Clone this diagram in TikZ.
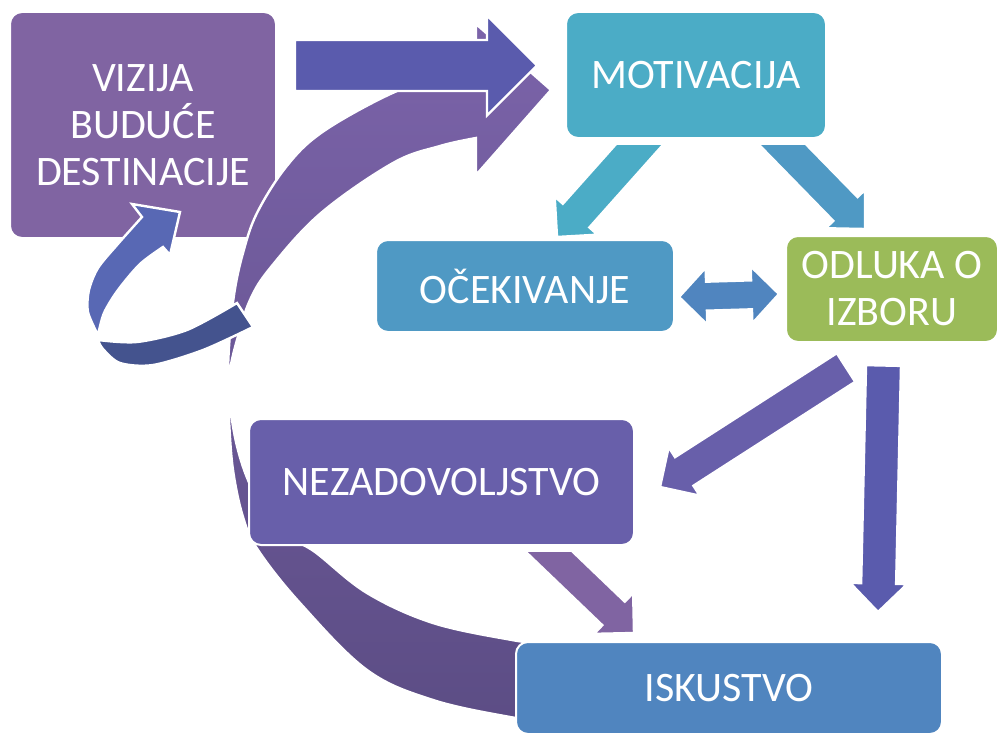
\documentclass[tikz,border=0pt]{standalone}
\usepackage{fontspec}
\setmainfont{Carlito}
\usetikzlibrary{calc}

\definecolor{vizcol}{HTML}{8064A2}
\definecolor{motcol}{HTML}{4BACC6}
\definecolor{ocecol}{HTML}{4F99C4}
\definecolor{odlcol}{HTML}{9BBB59}
\definecolor{nezcol}{HTML}{685FAA}
\definecolor{iskcol}{HTML}{5085BF}
\definecolor{arrcol}{HTML}{5A5BAD}
\definecolor{loopcol}{HTML}{5868B4}
\definecolor{loopback}{HTML}{44538E}
\definecolor{bandtop}{HTML}{7B63A9}
\definecolor{bandbot}{HTML}{5C4D85}

\newcommand{\pxu}{0.5pt}
% colour, tail, tip, half shaft, half head, head length
\newcommand{\blockarrow}[6]{%
  \coordinate (ba-t) at (#2);
  \coordinate (ba-p) at (#3);
  \coordinate (ba-b) at ($(ba-p)!{#6*\pxu}!(ba-t)$);
  \fill[#1, draw=white, line width=1.2pt]
    ($(ba-t)!{#4*\pxu}!90:(ba-p)$) -- ($(ba-b)!{#4*\pxu}!90:(ba-p)$) -- ($(ba-b)!{#5*\pxu}!90:(ba-p)$) -- (ba-p)
    -- ($(ba-b)!{#5*\pxu}!-90:(ba-p)$) -- ($(ba-b)!{#4*\pxu}!-90:(ba-p)$) -- ($(ba-t)!{#4*\pxu}!-90:(ba-p)$) -- cycle;
}
% colour, left tip, right tip, half shaft, half head, head length
\newcommand{\dblarrow}[6]{%
  \coordinate (da-a) at (#2);
  \coordinate (da-b) at (#3);
  \coordinate (da-ah) at ($(da-a)!{#6*\pxu}!(da-b)$);
  \coordinate (da-bh) at ($(da-b)!{#6*\pxu}!(da-a)$);
  \fill[#1, draw=white, line width=1.2pt]
    (da-a) -- ($(da-ah)!{#5*\pxu}!90:(da-b)$) -- ($(da-ah)!{#4*\pxu}!90:(da-b)$)
    -- ($(da-bh)!{#4*\pxu}!-90:(da-a)$) -- ($(da-bh)!{#5*\pxu}!-90:(da-a)$) -- (da-b)
    -- ($(da-bh)!{#5*\pxu}!90:(da-a)$) -- ($(da-bh)!{#4*\pxu}!90:(da-a)$)
    -- ($(da-ah)!{#4*\pxu}!-90:(da-b)$) -- ($(da-ah)!{#5*\pxu}!-90:(da-b)$) -- cycle;
}

\tikzset{
  box/.style={rectangle, rounded corners=6pt, draw=white, line width=1pt, text=white,
    align=center, inner sep=0pt, font=\fontsize{21}{23.5}\selectfont},
}

\begin{document}
\begin{tikzpicture}[x=0.5pt, y=-0.5pt]
  \useasboundingbox (0,0) rectangle (1000,733);
  \clip (0,0) rectangle (1000,733);

  \node[box, fill=vizcol, minimum width=266*\pxu, minimum height=226*\pxu] (viz) at (143,125) {VIZIJA\\BUDUĆE\\DESTINACIJE};

  % big loop back to motivation
  \shadedraw[top color=bandtop, bottom color=bandbot, draw=white, line width=1.2pt]
    plot[smooth, tension=0.6] coordinates {(540,720) (510,717) (433,700) (367,670) (300,603) (258,550) (243,517)
      (233,470) (229,420) (228,385) (229,347) (234,295) (243,253) (257,213) (286,167) (321,133) (384,97) (430,80) (476,75)}
    -- (476,24) -- (551,90) -- (476,175)
    -- plot[smooth, tension=0.6] coordinates {(476,138) (440,146) (393,163) (321,213) (271,267) (250,300) (237,340)
      (230,370) (229,390) (232,420) (238,450) (248,480) (265,515) (290,538) (315,552) (367,593) (433,623) (512,640) (540,643)}
    -- cycle;

  % small loop into the vision
  \filldraw[fill=loopback, draw=white, line width=1.2pt]
    plot[smooth] coordinates {(98,340) (137,342) (187,330) (237,303)}
    -- plot[smooth] coordinates {(253,327) (203,350) (153,365) (120,363) (103,349) (98,340)} -- cycle;
  \filldraw[fill=loopcol, draw=white, line width=1.2pt]
    plot[smooth] coordinates {(98,335) (88,312) (89,290) (98,268) (117,245) (142,217)}
    -- (132,204) -- (180,212) -- (170,255)
    -- plot[smooth] coordinates {(163,247) (140,264) (118,290) (104,313) (98,335)} -- cycle;

  \blockarrow{arrcol}{295,65.5}{537,65.5}{25.5}{50}{50}

  \node[box, fill=motcol, minimum width=260*\pxu, minimum height=126*\pxu] (mot) at (696,75) {MOTIVACIJA};
  \node[box, fill=ocecol, minimum width=298*\pxu, minimum height=92*\pxu] (oce) at (525,286) {OČEKIVANJE};
  \node[box, fill=odlcol, minimum width=212*\pxu, minimum height=106*\pxu] (odl) at (892,289) {ODLUKA O\\IZBORU};
  \node[box, fill=nezcol, minimum width=385*\pxu, minimum height=126*\pxu] (nez) at (441.5,482) {NEZADOVOLJSTVO};
  \node[box, fill=iskcol, minimum width=426*\pxu, minimum height=92*\pxu] (isk) at (729,688) {ISKUSTVO};

  \begin{scope}
    \clip (0,145) rectangle (1000,733);
    \blockarrow{motcol}{652.3,130.1}{557,237}{17.8}{28.7}{28.7}
    \blockarrow{ocecol}{769,130.7}{865,229}{17}{27.6}{28}
  \end{scope}
  \dblarrow{iskcol}{679,297}{779,294}{14.5}{28.5}{27.5}
  \blockarrow{nezcol}{846,367.5}{660,487}{17}{28.8}{28.8}
  \blockarrow{arrcol}{883.5,365.5}{878,612}{17.5}{28.5}{28.5}
  \begin{scope}
    \clip (0,552) rectangle (1000,733);
    \blockarrow{vizcol}{535.6,538.7}{634,633}{16.3}{28.3}{28.3}
  \end{scope}
\end{tikzpicture}
\end{document}
